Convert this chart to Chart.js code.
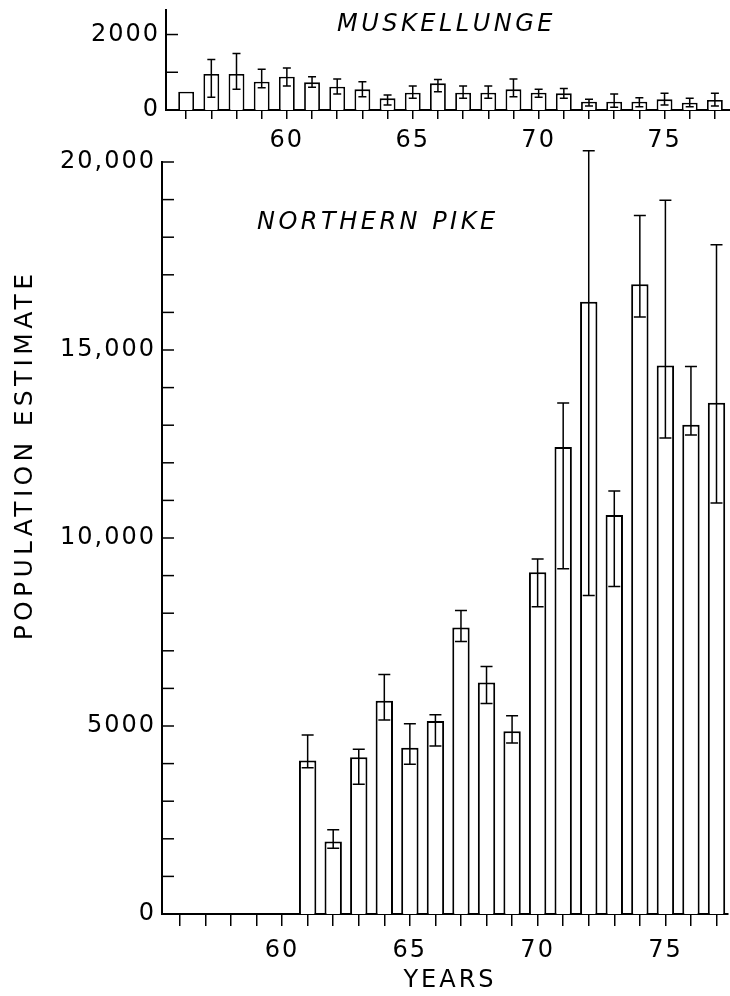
<!DOCTYPE html>
<html>
<head>
<meta charset="utf-8">
<title>Muskellunge and northern pike population estimates</title>
<script src="https://cdn.jsdelivr.net/npm/chart.js@4.4.1/dist/chart.umd.min.js"></script>
<style>
  html, body { margin: 0; padding: 0; background: #fff; }
  #wrap { position: relative; width: 730px; height: 996px; }
  canvas { position: absolute; left: 0; }
  #musky { top: 0; }
  #pike { top: 150px; }
</style>
</head>
<body>
<div id="wrap">
  <canvas id="musky" width="730" height="150"></canvas>
  <canvas id="pike" width="730" height="846"></canvas>
</div>
<script>
// years 1956-1977, written as the two last digits like on the axis
var years = [56, 57, 58, 59, 60, 61, 62, 63, 64, 65, 66, 67, 68, 69, 70, 71, 72, 73, 74, 75, 76, 77];
var yearLabels = [60, 65, 70, 75];

var muskyEstimate = [484, 953, 953, 749, 881, 733, 617, 547, 309, 459, 706, 459, 459, 547, 459, 441, 220, 220, 220, 282, 194, 265];
var muskyLow = [null, 336, 548, 590, 635, 600, 423, 353, 132, 309, 485, 309, 309, 353, 335, 309, 106, 71, 88, 132, 88, 106];
var muskyHigh = [null, 1341, 1500, 1077, 1111, 881, 820, 750, 397, 635, 811, 635, 635, 820, 547, 573, 282, 423, 326, 441, 309, 441];
var muskyTickLabels = [0, 2000];

var pikeEstimate = [null, null, null, null, null, 4080, 1930, 4170, 5670, 4420, 5130, 7620, 6160, 4860, 9090, 12420, 16280, 10610, 16750, 14590, 13010, 13600];
var pikeLow = [null, null, null, null, null, 3890, 1750, 3450, 5160, 3980, 4470, 7250, 5600, 4550, 8170, 9180, 8470, 8710, 15880, 12660, 12740, 10930];
var pikeHigh = [null, null, null, null, null, 4760, 2240, 4380, 6370, 5060, 5300, 8070, 6580, 5270, 9440, 13590, 20300, 11250, 18580, 18980, 14560, 17800];
var pikeTickLabels = [0, 5000, 10000, 15000, 20000];

Chart.defaults.font.family = 'DejaVu Sans';
Chart.defaults.font.size = 24;
Chart.defaults.color = '#000';

function points(values) {
	return years.map(function (yr, i) { return { x: yr, y: values[i] }; });
}

function fmt(v) {
	return v >= 10000 ? v.toLocaleString('en-US') : String(v);
}

// canvas letter spacing, the lettering of the original is wide
var spacing = {
	id: 'spacing',
	beforeDraw: function (chart) { chart.ctx.letterSpacing = '2px'; }
};

// y tick marks point into the plot, one every 1000
function inwardTicks(length) {
	return {
		id: 'inwardTicks',
		afterDraw: function (chart) {
			var y = chart.scales.y, area = chart.chartArea, ctx = chart.ctx;
			ctx.save();
			ctx.strokeStyle = '#000';
			ctx.lineWidth = 1.5;
			y.ticks.forEach(function (t) {
				if (t.value <= 0 || t.value % 1000 !== 0) return;
				var py = y.getPixelForValue(t.value);
				ctx.beginPath();
				ctx.moveTo(area.left, py);
				ctx.lineTo(area.left + length, py);
				ctx.stroke();
			});
			ctx.restore();
		}
	};
}

function errorBars(low, high, cap) {
	return {
		id: 'errorBars',
		afterDatasetsDraw: function (chart) {
			var meta = chart.getDatasetMeta(0), y = chart.scales.y, ctx = chart.ctx;
			ctx.save();
			ctx.strokeStyle = '#000';
			ctx.lineWidth = 1.5;
			meta.data.forEach(function (bar, i) {
				if (low[i] == null || high[i] == null) return;
				var top = y.getPixelForValue(high[i]);
				var bottom = y.getPixelForValue(low[i]);
				var half = cap / 2;
				ctx.beginPath();
				ctx.moveTo(bar.x, top); ctx.lineTo(bar.x, bottom);
				ctx.moveTo(bar.x - half, top); ctx.lineTo(bar.x + half, top);
				ctx.moveTo(bar.x - half, bottom); ctx.lineTo(bar.x + half, bottom);
				ctx.stroke();
			});
			ctx.restore();
		}
	};
}

function captions(items) {
	return {
		id: 'captions',
		afterDraw: function (chart) {
			var ctx = chart.ctx;
			items.forEach(function (c) {
				ctx.save();
				ctx.font = c.font;
				ctx.fillStyle = '#000';
				ctx.letterSpacing = c.spacing;
				ctx.textAlign = c.align;
				ctx.textBaseline = 'middle';
				ctx.translate(c.x, c.y);
				if (c.rotate) ctx.rotate(c.rotate);
				ctx.fillText(c.text, 0, 0);
				ctx.restore();
			});
		}
	};
}

function makeChart(id, o) {
	return new Chart(document.getElementById(id), {
		type: 'bar',
		data: {
			datasets: [{
				data: points(o.values),
				backgroundColor: '#fff',
				borderColor: '#000',
				borderWidth: o.border,
				barPercentage: o.barPct,
				categoryPercentage: 1
			}]
		},
		options: {
			responsive: false,
			devicePixelRatio: 1,
			animation: false,
			layout: { padding: o.padding },
			plugins: { legend: { display: false }, tooltip: { enabled: false } },
			scales: {
				x: {
					type: 'linear',
					min: o.xMin,
					max: o.xMax,
					offset: false,
					afterFit: function (s) {
						s.height = o.xHeight;
						s.paddingLeft = 0;
						s.paddingRight = 0;
					},
					grid: { display: true, offset: false, drawOnChartArea: false, drawTicks: true, tickLength: o.xTick, color: '#000', lineWidth: 1.5 },
					border: { display: true, color: '#000', width: 2 },
					ticks: {
						stepSize: 1,
						includeBounds: false,
						autoSkip: false,
						maxRotation: 0,
						minRotation: 0,
						padding: o.xPad,
						callback: function (v) { return yearLabels.indexOf(v) >= 0 ? String(v) : ''; }
					}
				},
				y: {
					min: 0,
					max: o.yMax,
					afterFit: function (s) {
						s.width = o.yWidth;
						s.paddingTop = 0;
						s.paddingBottom = 0;
					},
					grid: { display: false, drawTicks: false },
					border: { display: true, color: '#000', width: 2 },
					ticks: {
						stepSize: o.yStep,
						autoSkip: false,
						padding: 6,
						callback: function (v) { return o.tickLabels.indexOf(v) >= 0 ? fmt(v) : ''; }
					}
				}
			}
		},
		plugins: [spacing, errorBars(o.low, o.high, o.cap), inwardTicks(12), captions(o.captions)]
	});
}

makeChart('musky', {
	values: muskyEstimate, low: muskyLow, high: muskyHigh, tickLabels: muskyTickLabels,
	border: 1.8, barPct: 0.63, cap: 8,
	padding: { top: 10, right: 0, left: 0, bottom: 0 },
	xMin: 55.2, xMax: 77.6, xHeight: 40, xTick: 9, xPad: 7,
	yMax: 2650, yStep: 50, yWidth: 166,
	captions: [
		{ text: 'MUSKELLUNGE', x: 337, y: 25, align: 'left', font: 'italic 24px "DejaVu Sans"', spacing: '3.5px' }
	]
});

makeChart('pike', {
	values: pikeEstimate, low: pikeLow, high: pikeHigh, tickLabels: pikeTickLabels,
	border: 2, barPct: 0.68, cap: 12,
	padding: { top: 12, right: 2, left: 0, bottom: 0 },
	xMin: 55.3, xMax: 77.45, xHeight: 82, xTick: 12, xPad: 10,
	yMax: 20000, yStep: 1000, yWidth: 162,
	captions: [
		{ text: 'NORTHERN PIKE', x: 257, y: 73, align: 'left', font: 'italic 24px "DejaVu Sans"', spacing: '3.5px' },
		{ text: 'POPULATION ESTIMATE', x: 25, y: 305, align: 'center', font: '25px "DejaVu Sans"', spacing: '4.3px', rotate: -Math.PI / 2 },
		{ text: 'YEARS', x: 450, y: 831, align: 'center', font: '24px "DejaVu Sans"', spacing: '3px' }
	]
});
</script>
</body>
</html>
